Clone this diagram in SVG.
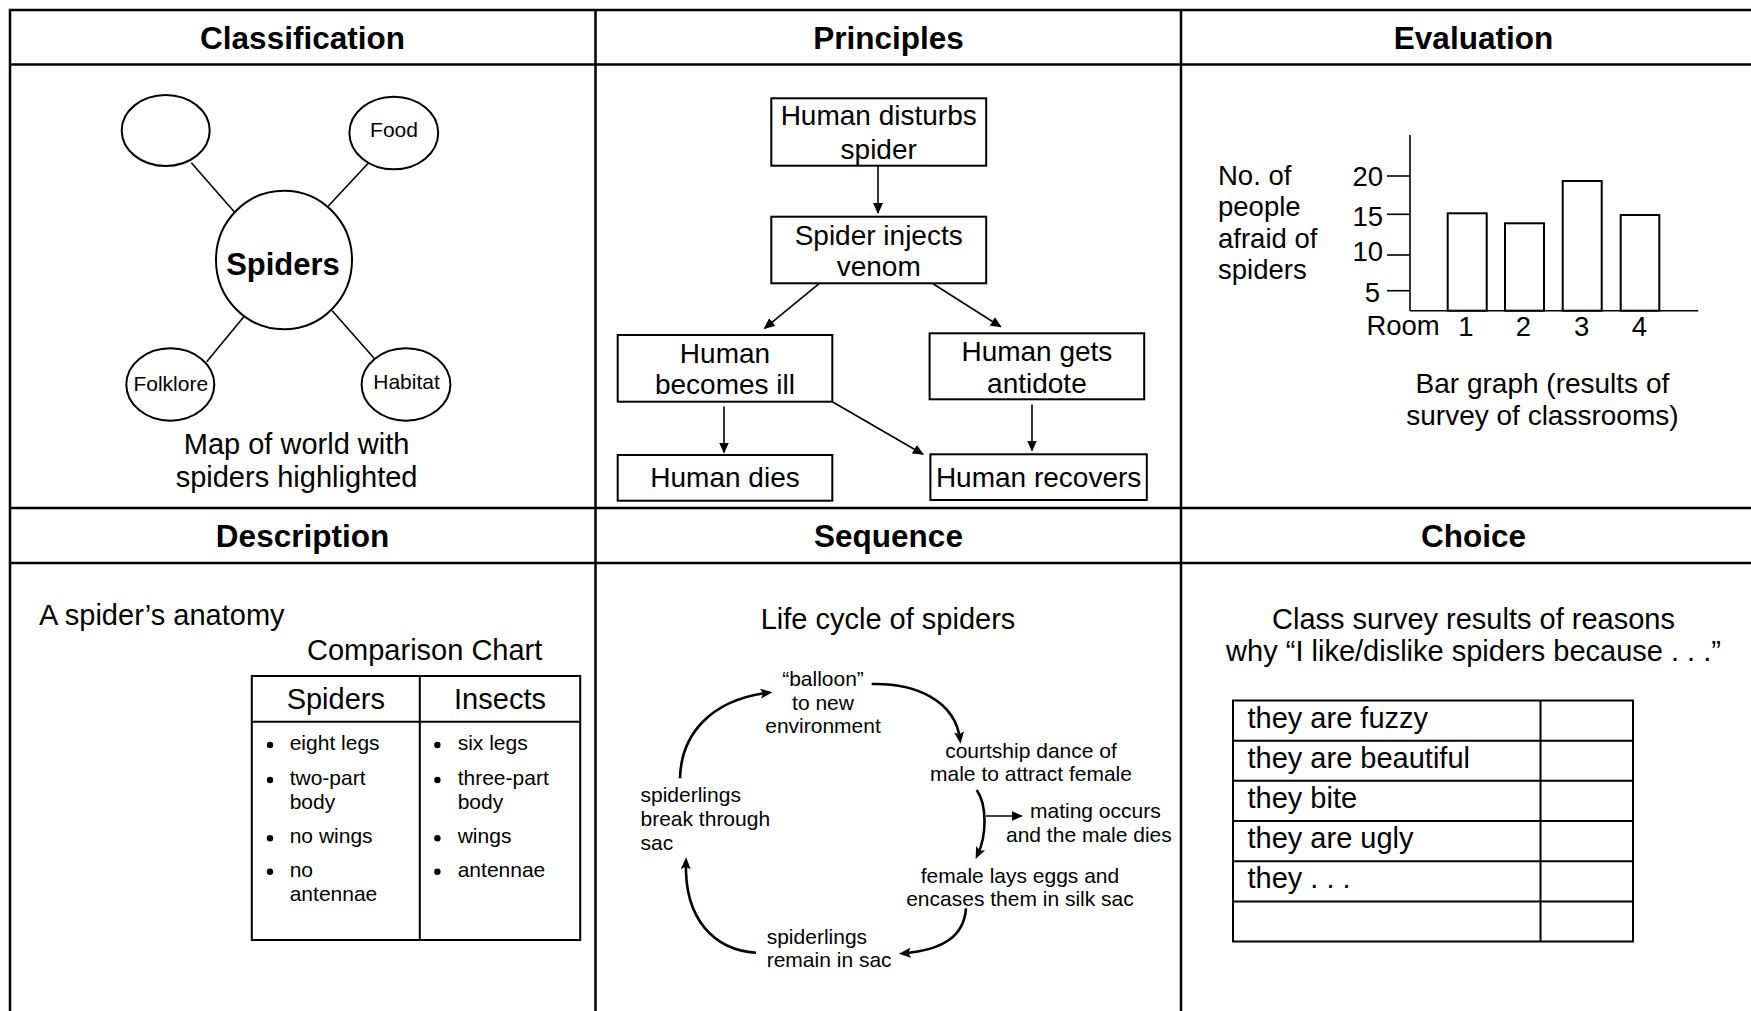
<svg xmlns="http://www.w3.org/2000/svg" width="1751" height="1011" viewBox="0 0 1751 1011">
<style>
text{font-family:"Liberation Sans",Arial,Helvetica,sans-serif;fill:#000}
.hd{font-size:31.5px;font-weight:bold;text-anchor:middle}
.t29{font-size:29px}
.t28{font-size:28px}
.t27{font-size:27.5px}
.t21{font-size:21px}
.c{text-anchor:middle}
.e{text-anchor:end}
.grid{fill:none;stroke:#000;stroke-width:2.5}
.box{fill:#fff;stroke:#000;stroke-width:2}
.ln{fill:none;stroke:#000;stroke-width:1.6}
.cv{fill:none;stroke:#000;stroke-width:2.6}
</style>
<defs>
<marker id="ah" markerUnits="userSpaceOnUse" markerWidth="11" markerHeight="10" refX="10" refY="5" orient="auto"><path d="M0,0 L11,5 L0,10 z" fill="#000"/></marker>
<marker id="ah2" markerUnits="userSpaceOnUse" markerWidth="12" markerHeight="10" refX="7.5" refY="5" orient="auto"><path d="M0,0 L12,5 L0,10 L2.5,5 z" fill="#000"/></marker>
</defs>
<rect width="1751" height="1011" fill="#fff"/>
<g id="grid">
<rect class="grid" x="10" y="10" width="1760" height="1010"/>
<line class="grid" x1="10" y1="64.5" x2="1751" y2="64.5"/>
<line class="grid" x1="10" y1="508" x2="1751" y2="508"/>
<line class="grid" x1="10" y1="563" x2="1751" y2="563"/>
<line class="grid" x1="595.5" y1="10" x2="595.5" y2="1011"/>
<line class="grid" x1="1181" y1="10" x2="1181" y2="1011"/>
</g>
<g id="headers">
<text class="hd" x="302.5" y="49">Classification</text>
<text class="hd" x="888.5" y="49">Principles</text>
<text class="hd" x="1473.5" y="49">Evaluation</text>
<text class="hd" x="302.5" y="547">Description</text>
<text class="hd" x="888.5" y="547">Sequence</text>
<text class="hd" x="1473.5" y="547">Choice</text>
</g>
<g id="connectors">
<line class="ln" x1="191.3" y1="162.7" x2="234.2" y2="211.7"/>
<line class="ln" x1="368.2" y1="163.3" x2="328.4" y2="206"/>
<line class="ln" x1="243.8" y1="316.7" x2="206.7" y2="361.7"/>
<line class="ln" x1="332.2" y1="310.7" x2="375" y2="359.3"/>
<line class="ln" x1="878" y1="166" x2="878" y2="213" marker-end="url(#ah)"/>
<line class="ln" x1="819.4" y1="283.3" x2="764.6" y2="328.3" marker-end="url(#ah)"/>
<line class="ln" x1="932.2" y1="283.3" x2="1000.7" y2="326.7" marker-end="url(#ah)"/>
<line class="ln" x1="724" y1="406.5" x2="724" y2="452.5" marker-end="url(#ah)"/>
<line class="ln" x1="1032" y1="404.5" x2="1032" y2="450.5" marker-end="url(#ah)"/>
<line class="ln" x1="832.3" y1="401.7" x2="923" y2="454.3" marker-end="url(#ah)"/>
<path class="cv" d="M680,778.3 C681,735 710,700 768,692.7" marker-end="url(#ah2)"/>
<path class="cv" d="M871.7,684 C915,683 955,700 960,739.3" marker-end="url(#ah2)"/>
<path class="cv" d="M976.7,790 C987,805 987,835 977.5,855" marker-end="url(#ah2)"/>
<line class="ln" x1="986" y1="816" x2="1021.7" y2="816" marker-end="url(#ah)"/>
<path class="cv" d="M966,908.3 C964,935 945,950 903.3,953.3" marker-end="url(#ah2)"/>
<path class="cv" d="M756,952.7 C715,950 684,920 686,861.7" marker-end="url(#ah2)"/>
</g>
<g id="n-empty"><ellipse class="box" cx="165.7" cy="130.5" rx="44" ry="35.5"/></g>
<g id="n-food"><ellipse class="box" cx="393.8" cy="133" rx="44.4" ry="36.3"/><text class="t21 c" x="394" y="137">Food</text></g>
<g id="n-spiders"><ellipse class="box" cx="284" cy="260" rx="68" ry="69.3"/><text class="c" x="283" y="275" style="font-size:31px;font-weight:bold">Spiders</text></g>
<g id="n-folklore"><ellipse class="box" cx="170.3" cy="384.5" rx="44" ry="36.2"/><text class="t21 c" x="170.8" y="391">Folklore</text></g>
<g id="n-habitat"><ellipse class="box" cx="406" cy="384.5" rx="44.4" ry="36.2"/><text class="t21 c" x="406.5" y="388.5">Habitat</text></g>
<g id="cap-map"><text class="t29 c" x="296.6" y="454">Map of world with</text><text class="t29 c" x="296.6" y="487">spiders highlighted</text></g>
<g id="p-disturbs"><rect class="box" x="771.3" y="98.3" width="214.9" height="67.4"/><text class="t28 c" x="878.7" y="125">Human disturbs</text><text class="t28 c" x="878.7" y="158.5">spider</text></g>
<g id="p-injects"><rect class="box" x="771.3" y="216.7" width="214.9" height="66.6"/><text class="t28 c" x="878.7" y="244.5">Spider injects</text><text class="t28 c" x="878.7" y="276">venom</text></g>
<g id="p-ill"><rect class="box" x="617.7" y="335" width="214.6" height="66.7"/><text class="t28 c" x="725" y="362.5">Human</text><text class="t28 c" x="725" y="394">becomes ill</text></g>
<g id="p-antidote"><rect class="box" x="929.6" y="333.3" width="214.6" height="66"/><text class="t28 c" x="1036.9" y="361">Human gets</text><text class="t28 c" x="1036.9" y="392.5">antidote</text></g>
<g id="p-dies"><rect class="box" x="617.7" y="455" width="214.6" height="45.7"/><text class="t28 c" x="725" y="487">Human dies</text></g>
<g id="p-recovers"><rect class="box" x="930.4" y="454.3" width="216.4" height="45.7"/><text class="t28 c" x="1038.6" y="486.5">Human recovers</text></g>
<g id="bar-graph">
<text class="t27" x="1218" y="184.5">No. of</text>
<text class="t27" x="1218" y="216">people</text>
<text class="t27" x="1218" y="247.5">afraid of</text>
<text class="t27" x="1218" y="279">spiders</text>
<line class="ln" x1="1410" y1="135" x2="1410" y2="310.7"/>
<line class="ln" x1="1410" y1="310.7" x2="1698.3" y2="310.7"/>
<line class="ln" x1="1387" y1="176" x2="1410" y2="176"/>
<line class="ln" x1="1387" y1="214.3" x2="1410" y2="214.3"/>
<line class="ln" x1="1387" y1="255" x2="1410" y2="255"/>
<line class="ln" x1="1387" y1="290.7" x2="1410" y2="290.7"/>
<text class="t27 e" x="1383" y="186">20</text>
<text class="t27 e" x="1383" y="226">15</text>
<text class="t27 e" x="1383" y="260.5">10</text>
<text class="t27 e" x="1380" y="302">5</text>
<rect class="box" x="1447.7" y="213.3" width="39" height="97.4"/>
<rect class="box" x="1505" y="223.3" width="39" height="87.4"/>
<rect class="box" x="1562.7" y="181" width="39" height="129.7"/>
<rect class="box" x="1620.7" y="215" width="38.6" height="95.7"/>
<text class="t27" x="1366.4" y="335">Room</text>
<text class="t27 c" x="1466" y="336">1</text>
<text class="t27 c" x="1523.3" y="336">2</text>
<text class="t27 c" x="1581.7" y="336">3</text>
<text class="t27 c" x="1639.3" y="336">4</text>
<text class="t28 c" x="1542.4" y="393">Bar graph (results of</text>
<text class="t28 c" x="1542.4" y="425">survey of classrooms)</text>
</g>
<g id="comparison">
<text class="t29" x="39" y="625">A spider’s anatomy</text>
<text class="t29" x="307" y="659.5">Comparison Chart</text>
<rect class="box" x="251.8" y="676" width="328.4" height="264"/>
<line class="ln" x1="419.8" y1="676" x2="419.8" y2="940" style="stroke-width:2"/>
<line class="ln" x1="251.8" y1="721.7" x2="580.2" y2="721.7" style="stroke-width:2"/>
<text class="t29 c" x="335.8" y="708.5">Spiders</text>
<text class="t29 c" x="500" y="708.5">Insects</text>
<circle cx="270" cy="745" r="3.2"/>
<circle cx="270" cy="780" r="3.2"/>
<circle cx="270" cy="838.3" r="3.2"/>
<circle cx="270" cy="871.7" r="3.2"/>
<circle cx="437.4" cy="745" r="3.2"/>
<circle cx="437.4" cy="780" r="3.2"/>
<circle cx="437.4" cy="838.3" r="3.2"/>
<circle cx="437.4" cy="871.7" r="3.2"/>
<text class="t21" x="289.7" y="750">eight legs</text>
<text class="t21" x="289.7" y="785">two-part</text>
<text class="t21" x="289.7" y="808.5">body</text>
<text class="t21" x="289.7" y="843.3">no wings</text>
<text class="t21" x="289.7" y="876.7">no</text>
<text class="t21" x="289.7" y="901">antennae</text>
<text class="t21" x="457.7" y="750">six legs</text>
<text class="t21" x="457.7" y="785">three-part</text>
<text class="t21" x="457.7" y="808.5">body</text>
<text class="t21" x="457.7" y="843.3">wings</text>
<text class="t21" x="457.7" y="876.7">antennae</text>
</g>
<g id="life-cycle">
<text class="t29 c" x="888" y="628.5">Life cycle of spiders</text>
</g>
<g id="s-balloon"><text class="t21 c" x="823" y="686">“balloon”</text><text class="t21 c" x="823" y="709.5">to new</text><text class="t21 c" x="823" y="733">environment</text></g>
<g id="s-courtship"><text class="t21 c" x="1031" y="757.7">courtship dance of</text><text class="t21 c" x="1031" y="780.5">male to attract female</text></g>
<g id="s-mating"><text class="t21" x="1030" y="818.3">mating occurs</text><text class="t21" x="1006" y="841.7">and the male dies</text></g>
<g id="s-eggs"><text class="t21 c" x="1020" y="882.7">female lays eggs and</text><text class="t21 c" x="1020" y="906">encases them in silk sac</text></g>
<g id="s-remain"><text class="t21" x="766.7" y="944">spiderlings</text><text class="t21" x="766.7" y="967">remain in sac</text></g>
<g id="s-break"><text class="t21" x="640.5" y="802">spiderlings</text><text class="t21" x="640.5" y="826">break through</text><text class="t21" x="640.5" y="850">sac</text></g>
<g id="survey">
<text class="t29 c" x="1473.5" y="628.5">Class survey results of reasons</text>
<text class="t29 c" x="1473.5" y="661">why “I like/dislike spiders because . . .”</text>
<rect class="box" x="1233" y="700.5" width="400" height="241"/>
<line class="ln" x1="1540.5" y1="700.5" x2="1540.5" y2="941.5" style="stroke-width:2"/>
<line class="ln" x1="1233" y1="740.7" x2="1633" y2="740.7" style="stroke-width:2"/>
<line class="ln" x1="1233" y1="780.8" x2="1633" y2="780.8" style="stroke-width:2"/>
<line class="ln" x1="1233" y1="821" x2="1633" y2="821" style="stroke-width:2"/>
<line class="ln" x1="1233" y1="861.2" x2="1633" y2="861.2" style="stroke-width:2"/>
<line class="ln" x1="1233" y1="901.4" x2="1633" y2="901.4" style="stroke-width:2"/>
<text class="t29" x="1247.5" y="727.5">they are fuzzy</text>
<text class="t29" x="1247.5" y="767.5">they are beautiful</text>
<text class="t29" x="1247.5" y="807.5">they bite</text>
<text class="t29" x="1247.5" y="847.5">they are ugly</text>
<text class="t29" x="1247.5" y="887.5">they . . .</text>
</g>
</svg>
